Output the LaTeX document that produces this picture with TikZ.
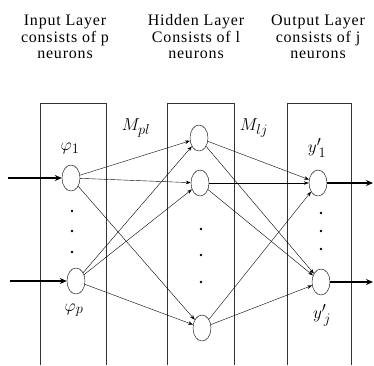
\documentclass[tikz,border=0pt]{standalone}
\usepackage{fontspec}
\setmainfont{Liberation Serif}
\usetikzlibrary{shapes.geometric,arrows.meta}
\tikzset{
  neuron/.style={draw,ellipse,minimum width=18pt,minimum height=26pt,inner sep=0pt},
  layerbox/.style={draw,thin,black!80},
  link/.style={-{Stealth[length=5pt,width=3.5pt]},thin},
  io/.style={-{Stealth[length=7pt,width=6pt]},line width=2pt},
  head/.style={align=center,font=\fontsize{16}{16.5}\selectfont\addfontfeature{LetterSpace=5}},
  lbl/.style={font=\fontsize{19}{21}\selectfont}
}
\begin{document}
\begin{tikzpicture}[x=1pt,y=-1pt]
        \useasboundingbox (0,0) rectangle (374,365);
        % Headers
        \node[head] (hin) at (65,37) {Input Layer\\consists of p\\neurons};
        \node[head] (hhid) at (196,37) {Hidden Layer\\Consists of l\\neurons};
        \node[head] (hout) at (318,37) {Output Layer\\consists of j\\neurons};

        % Layer boxes (open at the bottom)
        \draw[layerbox] (40,365)--(40,103)--(106,103)--(106,365);
        \draw[layerbox] (167,365)--(167,103)--(234,103)--(234,365);
        \draw[layerbox] (287,365)--(287,103)--(351,103)--(351,365);

        % Neurons
        \node[neuron] (x1) at (71,178) {}; \node[neuron] (xp) at (76,281) {};
        \node[neuron] (h1) at (199,138) {}; \node[neuron] (h2) at (200,183) {};
        \node[neuron] (hl) at (202,328) {};
        \node[neuron] (y1) at (318,183) {}; \node[neuron] (yj) at (321,282) {};

        % Dots
        \foreach \y in {211,231,252} \fill (72,\y) circle (1.3);
        \foreach \y in {229,255,282} \fill (201,\y) circle (1.3);
        \foreach \y in {213,231,249} \fill (321,\y) circle (1.3);

        % Labels
        \node[lbl] (lx1) at (70,148) {$\varphi_1$};
        \node[lbl] (lxp) at (74,310) {$\varphi_p$};
        \node[lbl] (lmpl) at (136,128) {$M_{pl}$};
        \node[lbl] (lmlj) at (254,128) {$M_{lj}$};
        \node[lbl] (ly1) at (317,148) {$y'_{\,1}$};
        \node[lbl] (lyj) at (322,315) {$y'_{\,j}$};

        % Connections
        \foreach \a in {x1,xp} \foreach \b in {h1,h2,hl} \draw[link] (\a) -- (\b);
        \foreach \a in {h1,h2,hl} \foreach \b in {y1,yj} \draw[link] (\a) -- (\b);

        % Inputs and outputs
        \coordinate (in1) at (8,178); \coordinate (inp) at (10,281);
        \coordinate (out1) at (373,183); \coordinate (outj) at (373,282);
        \draw[io] (in1) -- (x1); \draw[io] (inp) -- (xp);
        \draw[io] (y1) -- (out1); \draw[io] (yj) -- (outj);
\end{tikzpicture}
\end{document}
